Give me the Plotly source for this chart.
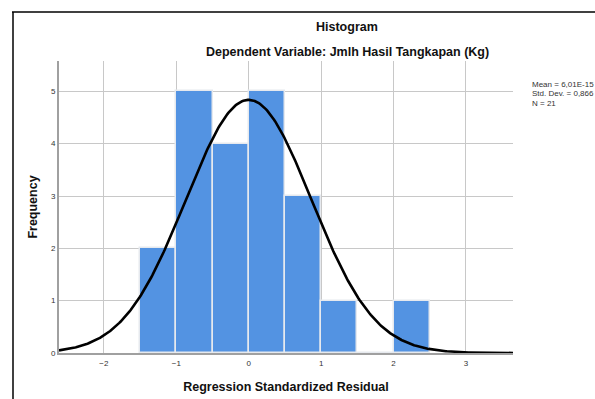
import numpy as np
import plotly.graph_objects as go

# Data
bin_starts = [-1.5, -1.0, -0.5, 0.0, 0.5, 1.0, 1.5, 2.0]
counts = [2, 5, 4, 5, 3, 1, 0, 1]
bin_width = 0.5
mean_val = 6.01e-15
std_dev = 0.866
n_obs = 21
x_ticks = [-2, -1, 0, 1, 2, 3]
y_ticks = [0, 1, 2, 3, 4, 5]
stats_text = ["Mean = 6,01E-15", "Std. Dev. = 0,866", "N = 21"]

W, H = 595, 399
L, R, T, B = 59, 513, 61, 353
x_range = [-2.62, 3.65]
y_range = [0, 5.58]

# Fitted normal curve (SPSS overlay)
xc = np.linspace(x_range[0], x_range[1], 400)
yc = n_obs * bin_width * np.exp(-0.5 * ((xc - mean_val) / std_dev) ** 2) / (std_dev * np.sqrt(2 * np.pi))

font = "Liberation Sans, Arial, sans-serif"

fig = go.Figure()
fig.add_trace(go.Bar(
    x=bin_starts, y=counts, width=bin_width, offset=0,
    marker=dict(color="#5393e2", line=dict(color="#e6e9ee", width=1.5)),
    hoverinfo="skip", showlegend=False,
))
fig.add_trace(go.Scatter(
    x=xc, y=yc, mode="lines", line=dict(color="black", width=2.6),
    hoverinfo="skip", showlegend=False,
))

def px(xp):
    return (xp - L) / (R - L)

def py(yp):
    return 1 - (yp - T) / (B - T)

fig.update_layout(
    width=W, height=H,
    margin=dict(l=L, r=W - R, t=T, b=H - B, pad=0, autoexpand=False),
    paper_bgcolor="white", plot_bgcolor="white",
    font=dict(family=font, color="#222"),
    bargap=0,
    xaxis=dict(range=x_range, tickvals=x_ticks, showgrid=True, gridcolor="#c8c8c8", gridwidth=1,
               zeroline=False, showline=True, linecolor="#a0a0a0", linewidth=2, automargin=False,
               tickfont=dict(size=8, family=font, color="#333"), ticks="", ticklen=0,
               ticklabelstandoff=1,
               title=dict(text="<b>Regression Standardized Residual</b>", font=dict(size=12.5, family=font, color="#111"), standoff=16)),
    yaxis=dict(range=y_range, tickvals=y_ticks, showgrid=True, gridcolor="#c8c8c8", gridwidth=1,
               zeroline=False, showline=True, linecolor="#a0a0a0", linewidth=2, automargin=False,
               tickfont=dict(size=8, family=font, color="#333"), ticks="", ticklen=0,
               title=dict(text="<b>Frequency</b>", font=dict(size=12.5, family=font, color="#111"), standoff=11)),
)

annotations = [
    dict(text="<b>Histogram</b>", x=px(347), y=py(27.5), xref="paper", yref="paper",
         showarrow=False, font=dict(size=12.5, family=font, color="#111"), xanchor="center", yanchor="middle"),
    dict(text="<b>Dependent Variable: Jmlh Hasil Tangkapan (Kg)</b>", x=px(347), y=py(52.5), xref="paper", yref="paper",
         showarrow=False, font=dict(size=12.5, family=font, color="#111"), xanchor="center", yanchor="middle"),
]
for i, s in enumerate(stats_text):
    annotations.append(dict(text=s, x=px(530), y=py(84 + 9.5 * i), xref="paper", yref="paper",
                            showarrow=False, font=dict(size=8, family=font, color="#333"),
                            xanchor="left", yanchor="middle"))
fig.update_layout(annotations=annotations)

# Outer frame lines (top and left)
fig.add_shape(type="line", xref="paper", yref="paper", x0=px(12), x1=px(600), y0=py(12), y1=py(12),
              line=dict(color="black", width=1.5))
fig.add_shape(type="line", xref="paper", yref="paper", x0=px(13), x1=px(13), y0=py(12), y1=py(405),
              line=dict(color="black", width=1.5))

fig.write_html(
    "out.html",
    config={"displayModeBar": False},
    post_script="document.body.style.margin='0';document.body.style.overflow='hidden';",
)
